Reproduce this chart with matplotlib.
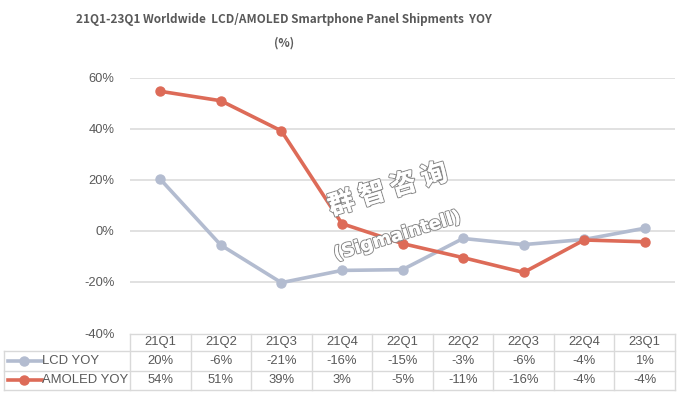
import matplotlib
matplotlib.use('Agg')
import numpy as np
from matplotlib import pyplot as plt
from matplotlib.lines import Line2D
import matplotlib.patheffects as pe
import matplotlib.transforms as mtransforms

quarters = ['21Q1', '21Q2', '21Q3', '21Q4', '22Q1', '22Q2', '22Q3', '22Q4', '23Q1']
lcd_yoy = [20.2, -5.6, -20.3, -15.5, -15.2, -3.0, -5.4, -3.4, 1.0]
amoled_yoy = [54.6, 50.9, 39.1, 2.8, -5.0, -10.5, -16.3, -3.6, -4.3]
lcd_labels = ['20%', '-6%', '-21%', '-16%', '-15%', '-3%', '-6%', '-4%', '1%']
amoled_labels = ['54%', '51%', '39%', '3%', '-5%', '-11%', '-16%', '-4%', '-4%']
yticks = [-40, -20, 0, 20, 40, 60]

LCD_C = '#B3BCD0'
AMO_C = '#DD6B58'
GRID_C = '#D9D9D9'
TXT_C = '#595959'
W, H = 682, 398


def Draw_Chart():
    fig = plt.figure(figsize=(W / 100, H / 100), dpi=100)
    ax = fig.add_axes([130 / W, (H - 333) / H, 545 / W, 255.5 / H])

    x = np.arange(len(quarters))
    ax.plot(x, lcd_yoy, color=LCD_C, lw=2.6, marker='o', ms=6.5, zorder=3)
    ax.plot(x, amoled_yoy, color=AMO_C, lw=2.6, marker='o', ms=6.5, zorder=4)

    ax.set_xlim(-0.5, len(quarters) - 0.5)
    ax.set_ylim(-40, 60)
    ax.set_yticks(yticks)
    ax.set_yticklabels(['%d%%' % v for v in yticks], color=TXT_C,
                       fontsize=9.3, family='Liberation Sans')
    ax.set_xticks([])
    ax.tick_params(axis='y', length=0, pad=11)
    for s in ax.spines.values():
        s.set_visible(False)
    for v in yticks[1:]:
        ax.axhline(v, color=GRID_C, lw=1.1, zorder=1)

    # 数据表
    def fy(p):
        return 1 - p / H

    def fx(p):
        return p / W

    rows_y = [334, 351, 370.5, 390]
    trans = mtransforms.blended_transform_factory(ax.transData, fig.transFigure)
    left, right = 4, 675
    tab_left = 130
    lc = dict(color=GRID_C, lw=1.0)
    fig.add_artist(Line2D([fx(tab_left), fx(right)], [fy(rows_y[0])] * 2, **lc))
    for yy in rows_y[1:]:
        fig.add_artist(Line2D([fx(left), fx(right)], [fy(yy)] * 2, **lc))
    fig.add_artist(Line2D([fx(left)] * 2, [fy(rows_y[1]), fy(rows_y[3])], **lc))
    for i in range(len(quarters) + 1):
        ax.add_artist(Line2D([i - 0.5] * 2, [fy(rows_y[0]), fy(rows_y[3])],
                             transform=trans, clip_on=False, **lc))

    tfont = dict(color=TXT_C, fontsize=9.4, family='Liberation Sans',
                 ha='center', va='center')
    for i, q in enumerate(quarters):
        ax.text(i, fy((rows_y[0] + rows_y[1]) / 2), q, transform=trans, **tfont)
        ax.text(i, fy((rows_y[1] + rows_y[2]) / 2), lcd_labels[i], transform=trans, **tfont)
        ax.text(i, fy((rows_y[2] + rows_y[3]) / 2), amoled_labels[i], transform=trans, **tfont)

    for k, (name, c) in enumerate([('LCD YOY', LCD_C), ('AMOLED YOY', AMO_C)]):
        yc = fy((rows_y[k + 1] + rows_y[k + 2]) / 2)
        fig.add_artist(Line2D([fx(8), fx(42)], [yc, yc], color=c, lw=2.6))
        fig.add_artist(Line2D([fx(24)], [yc], color=c, marker='o', ms=6.5))
        fig.text(fx(42), yc, name, color=TXT_C, fontsize=9.4,
                 family='Liberation Sans', ha='left', va='center')

    # 标题
    fig.text(fx(284), fy(19), '21Q1-23Q1 Worldwide  LCD/AMOLED Smartphone Panel Shipments  YOY',
             ha='center', va='center', fontsize=8.5, weight='bold', color=TXT_C,
             family='Noto Sans CJK SC')
    fig.text(fx(284), fy(43), '(%)', ha='center', va='center', fontsize=8.5,
             weight='bold', color=TXT_C, family='Noto Sans CJK SC')

    # 水印
    wm = [pe.withStroke(linewidth=1.6, foreground='#8C8C8C'), pe.Normal()]
    fig.text(fx(388), fy(190), '群 智 咨 询', ha='center', va='center', rotation=17,
             fontsize=19, weight='bold', color='white', family='Noto Sans CJK SC',
             path_effects=wm, zorder=10)
    fig.text(fx(397), fy(236), '(Sigmaintell)', ha='center', va='center', rotation=17,
             fontsize=13, weight='bold', color='white', family='DejaVu Sans',
             path_effects=wm, zorder=10)

    fig.savefig('out.png', dpi=100)


if __name__ == '__main__':
    Draw_Chart()
